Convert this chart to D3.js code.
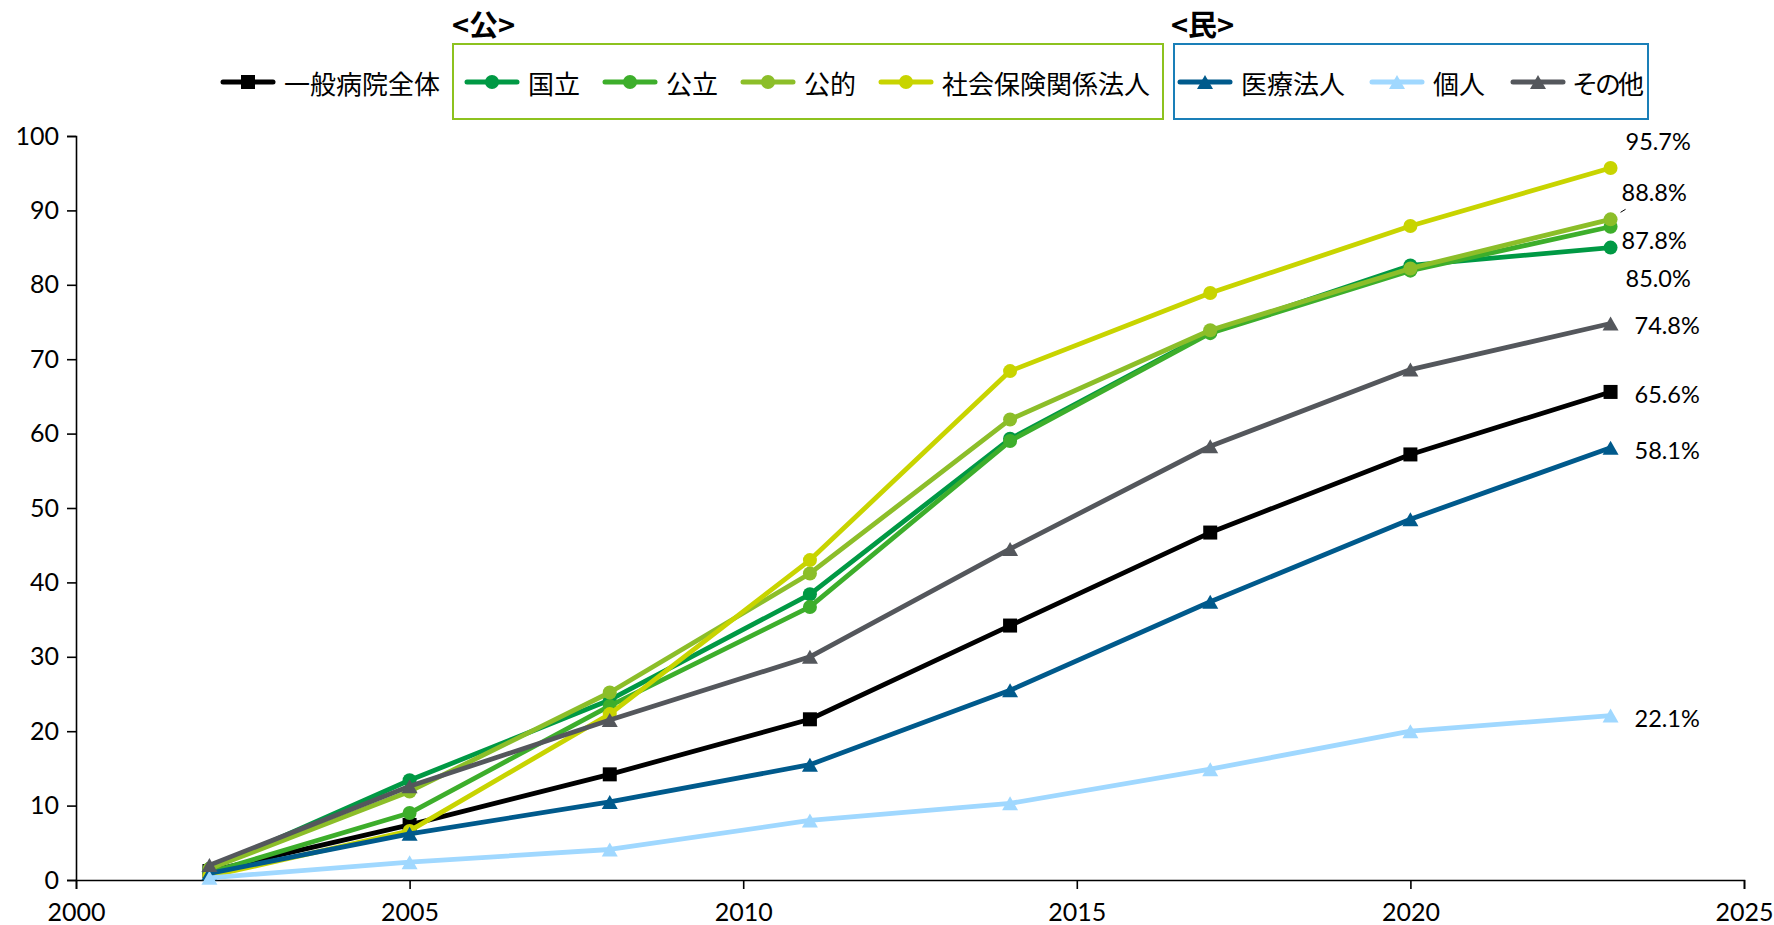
<!DOCTYPE html>
<html><head><meta charset="utf-8">
<script src="https://cdn.jsdelivr.net/npm/d3@7"></script>
<style>
html,body{margin:0;padding:0;background:#fff;}
svg{display:block;}
</style></head>
<body>
<svg id="chart" width="1774" height="925"></svg>
<script>
// ---- data ----
const years = [2002, 2005, 2008, 2011, 2014, 2017, 2020, 2023];
const seriesNames = ["一般病院全体", "国立", "公立", "公的", "社会保険関係法人", "医療法人", "個人", "その他"];
const valuesAll      = [1.2, 7.4, 14.2, 21.6, 34.2, 46.7, 57.2, 65.6];
const valuesKokuritsu= [1.5, 13.4, 24.2, 38.4, 59.3, 73.6, 82.6, 85.0];
const valuesKouritsu = [1.0, 9.0, 23.4, 36.7, 59.0, 73.5, 81.9, 87.8];
const valuesKouteki  = [1.5, 11.9, 25.2, 41.2, 61.9, 73.9, 82.2, 88.8];
const valuesShaho    = [0.5, 6.6, 22.3, 43.0, 68.4, 78.9, 87.9, 95.7];
const valuesIryo     = [0.9, 6.2, 10.5, 15.5, 25.5, 37.4, 48.5, 58.1];
const valuesKojin    = [0.3, 2.4, 4.1, 8.0, 10.3, 14.9, 20.0, 22.1];
const valuesOther    = [2.0, 12.6, 21.5, 30.0, 44.5, 58.3, 68.6, 74.8];
const endLabels = ["65.6%", "85.0%", "87.8%", "88.8%", "95.7%", "58.1%", "22.1%", "74.8%"];
const xTicks = [2000, 2005, 2010, 2015, 2020, 2025];
const yTicks = [0, 10, 20, 30, 40, 50, 60, 70, 80, 90, 100];
const groupTitles = ["<公>", "<民>"];

// ---- style / layout ----
const colors = ["#000000", "#009944", "#3DAE2B", "#8CBE29", "#C8D400", "#005A8C", "#A0D8FF", "#54575C"];
const shapes = ["square", "circle", "circle", "circle", "circle", "triangle", "triangle", "triangle"];
const labelOffsets = [[24, 2], [15, 30], [11, 13], [11, -27], [15, -27], [24, 2], [24, 2], [24, 2]];
const allValues = [valuesAll, valuesKokuritsu, valuesKouritsu, valuesKouteki, valuesShaho, valuesIryo, valuesKojin, valuesOther];

const svg = d3.select("#chart");
const M = {left: 76, right: 1744, top: 136, bottom: 880};
const x = d3.scaleLinear().domain([2000, 2025]).range([M.left, M.right]);
const y = d3.scaleLinear().domain([0, 100]).range([M.bottom, M.top]);
const numFont = "Lato, 'Noto Sans', sans-serif";
const cjkFont = "'Noto Sans CJK JP', 'Noto Sans', sans-serif";

// axes
const xAxis = svg.append("g").attr("transform", `translate(0,${M.bottom})`)
  .call(d3.axisBottom(x).tickValues(xTicks).tickFormat(d3.format("d")).tickSizeOuter(0).tickSize(9).tickPadding(14));
const yAxis = svg.append("g").attr("transform", `translate(${M.left},0)`)
  .call(d3.axisLeft(y).tickValues(yTicks).tickSizeOuter(0).tickSize(9).tickPadding(8));
[xAxis, yAxis].forEach(g => {
  g.selectAll("path.domain").attr("stroke", "#000").attr("stroke-width", 1.6);
  g.selectAll(".tick line").attr("stroke", "#000").attr("stroke-width", 1.6);
  g.selectAll(".tick text").attr("fill", "#000").style("font-family", numFont).style("font-size", "25px");
});

function drawMarker(g, shape, color, cx, cy, scale) {
  const s = scale || 1;
  if (shape === "circle") {
    g.append("circle").attr("cx", cx).attr("cy", cy).attr("r", 7 * s).attr("fill", color);
  } else if (shape === "square") {
    g.append("rect").attr("x", cx - 7 * s).attr("y", cy - 7 * s).attr("width", 14 * s).attr("height", 14 * s).attr("fill", color);
  } else {
    const w = 16 * s, h = 14 * s;
    g.append("path").attr("d", `M${cx},${cy - h / 2}L${cx + w / 2},${cy + h / 2}L${cx - w / 2},${cy + h / 2}Z`).attr("fill", color);
  }
}

// lines
const line = d3.line().x((d, i) => x(years[i])).y(d => y(d));
const plot = svg.append("g");
allValues.forEach((vals, si) => {
  const g = plot.append("g");
  g.append("path").datum(vals).attr("d", line).attr("fill", "none")
    .attr("stroke", colors[si]).attr("stroke-width", 4.8).attr("stroke-linejoin", "round");
  vals.forEach((v, i) => drawMarker(g, shapes[si], colors[si], x(years[i]), y(v)));
});

// end labels
allValues.forEach((vals, si) => {
  const last = vals.length - 1;
  svg.append("text").attr("x", x(years[last]) + labelOffsets[si][0]).attr("y", y(vals[last]) + labelOffsets[si][1])
    .attr("dominant-baseline", "central").style("font-family", numFont).style("font-size", "23.5px")
    .attr("fill", "#000").text(endLabels[si]);
});
// small leader line for 公的
svg.append("line").attr("x1", x(2023) + 10).attr("y1", y(valuesKouteki[7]) - 7)
  .attr("x2", x(2023) + 15).attr("y2", y(valuesKouteki[7]) - 10).attr("stroke", "#000").attr("stroke-width", 1);

// legend
const legend = svg.append("g");
const legY = 82;
const itemStarts = [223, 467, 605, 743, 881, 1180, 1372, 1513];
seriesNames.forEach((name, si) => {
  const lx = itemStarts[si];
  legend.append("line").attr("x1", lx).attr("x2", lx + 50).attr("y1", legY).attr("y2", legY)
    .attr("stroke", colors[si]).attr("stroke-width", 5).attr("stroke-linecap", "round");
  drawMarker(legend, shapes[si], colors[si], lx + 25, legY, 1.0);
  const hasKana = /[ぁ-ん]/.test(name);
  legend.append("text").attr("x", lx + (hasKana ? 59 : 61)).attr("y", legY).attr("dominant-baseline", "central")
    .style("font-family", cjkFont).style("font-size", "26px")
    .style("letter-spacing", hasKana ? "-3px" : "0px")
    .attr("fill", "#000").text(name);
});
// group boxes
legend.append("rect").attr("x", 453).attr("y", 44).attr("width", 710).attr("height", 75)
  .attr("fill", "none").attr("stroke", "#8DC21F").attr("stroke-width", 2);
legend.append("rect").attr("x", 1174).attr("y", 44).attr("width", 474).attr("height", 75)
  .attr("fill", "none").attr("stroke", "#1A7FB8").attr("stroke-width", 2);
legend.append("text").attr("x", 452).attr("y", 23).attr("dominant-baseline", "central")
  .style("font-family", cjkFont).style("font-size", "29px").style("font-weight", "bold").text(groupTitles[0]);
legend.append("text").attr("x", 1171).attr("y", 23).attr("dominant-baseline", "central")
  .style("font-family", cjkFont).style("font-size", "29px").style("font-weight", "bold").text(groupTitles[1]);
</script>
</body></html>
